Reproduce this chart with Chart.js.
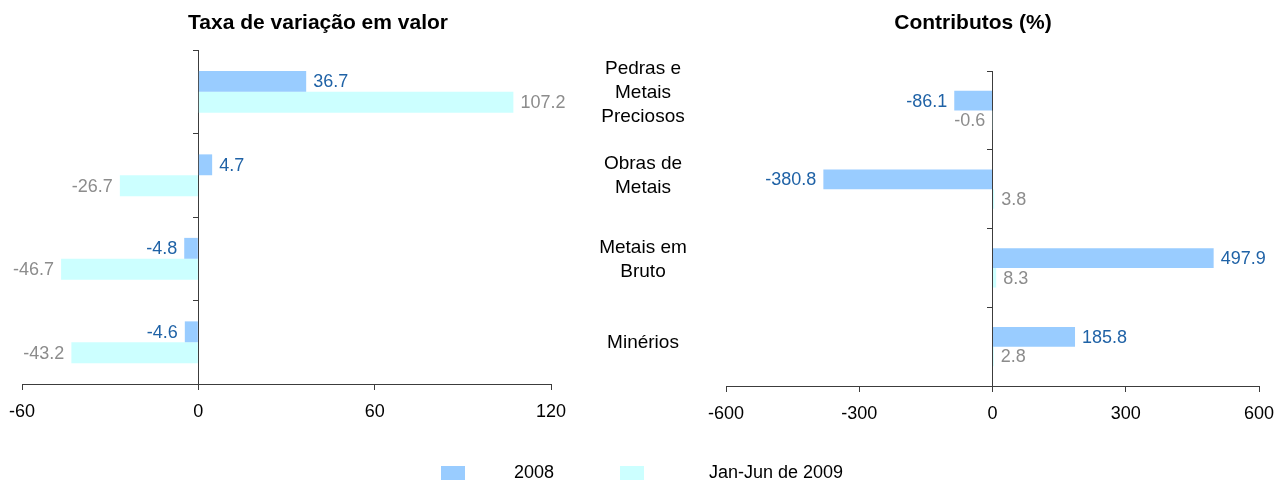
<!DOCTYPE html>
<html>
<head>
<meta charset="utf-8">
<script src="https://cdn.jsdelivr.net/npm/chart.js@4.4.1/dist/chart.umd.min.js"></script>
<style>
  html, body { margin: 0; padding: 0; background: #ffffff; }
  #wrap { position: relative; width: 1276px; height: 481px; overflow: hidden; }
  canvas { position: absolute; left: 0; top: 0; }
</style>
</head>
<body>
<div id="wrap">
  <canvas id="c1" width="1276" height="481"></canvas>
  <canvas id="c2" width="1276" height="481"></canvas>
</div>
<script>
// ---------- data ----------
const categories = [["Pedras e", "Metais", "Preciosos"], ["Obras de", "Metais"], ["Metais em", "Bruto"], ["Minérios"]];
const seriesNames = ["2008", "Jan-Jun de 2009"];
const taxa2008 = [36.7, 4.7, -4.8, -4.6];
const taxa2009 = [107.2, -26.7, -46.7, -43.2];
const contrib2008 = [-86.1, -380.8, 497.9, 185.8];
const contrib2009 = [-0.6, 3.8, 8.3, 2.8];
const taxaTicks = [-60, 0, 60, 120];
const contribTicks = [-600, -300, 0, 300, 600];
const chartTitles = ["Taxa de variação em valor", "Contributos (%)"];

// ---------- styles ----------
const FONT = "'Liberation Sans', Arial, Helvetica, sans-serif";
const barColors = ["#99CCFF", "#CCFFFF"];
const labelColors = ["#1F62A6", "#8C8C8C"];
const axisColor = "#3C3C3C";

Chart.defaults.font.family = FONT;
Chart.defaults.font.size = 18;
Chart.defaults.color = "#000000";

const valueLabels = {
  id: "valueLabels",
  afterDatasetsDraw(chart) {
    const ctx = chart.ctx;
    ctx.save();
    ctx.font = "18px " + FONT;
    ctx.textBaseline = "middle";
    chart.data.datasets.forEach((ds, di) => {
      const meta = chart.getDatasetMeta(di);
      meta.data.forEach((bar, i) => {
        const v = ds.data[i];
        const txt = v.toFixed(1);
        ctx.fillStyle = labelColors[di];
        if (v >= 0) { ctx.textAlign = "left"; ctx.fillText(txt, bar.x + 7, bar.y + 1); }
        else { ctx.textAlign = "right"; ctx.fillText(txt, bar.x - 7, bar.y + 1); }
      });
    });
    ctx.restore();
  }
};

const fixedTitle = {
  id: "fixedTitle",
  afterDraw(chart, args, opts) {
    if (!opts || !opts.text) return;
    const ctx = chart.ctx;
    ctx.save();
    ctx.font = "bold 21px " + FONT;
    ctx.fillStyle = "#000";
    ctx.textAlign = "center";
    ctx.textBaseline = "middle";
    ctx.fillText(opts.text, opts.x, opts.y);
    ctx.restore();
  }
};

const catLabels = {
  id: "catLabels",
  afterDraw(chart, args, opts) {
    if (!opts || !opts.show) return;
    const ctx = chart.ctx;
    const ys = chart.scales.y;
    ctx.save();
    ctx.font = "19px " + FONT;
    ctx.fillStyle = "#000";
    ctx.textAlign = "center";
    ctx.textBaseline = "middle";
    chart.data.labels.forEach((lines, i) => {
      const cy = ys.getPixelForValue(i) + opts.dy;
      const n = lines.length;
      lines.forEach((ln, k) => {
        ctx.fillText(ln, opts.x, cy + (k - (n - 1) / 2) * opts.lineHeight);
      });
    });
    ctx.restore();
  }
};

const fixedLegend = {
  id: "fixedLegend",
  afterDraw(chart, args, opts) {
    if (!opts || !opts.show) return;
    const ctx = chart.ctx;
    ctx.save();
    ctx.font = "18px " + FONT;
    ctx.textBaseline = "middle";
    ctx.textAlign = "left";
    chart.data.datasets.forEach((ds, di) => {
      const it = opts.items[di];
      ctx.fillStyle = ds.backgroundColor;
      ctx.fillRect(it.bx, opts.by, opts.bw, opts.bh);
      ctx.fillStyle = "#000";
      ctx.fillText(ds.label, it.tx, opts.ty);
    });
    ctx.restore();
  }
};

function makeChart(canvasId, d1, d2, ticksArr, padding, titleOpts, extraPlugins) {
  return new Chart(document.getElementById(canvasId), {
    type: "bar",
    data: {
      labels: categories,
      datasets: [
        { label: seriesNames[0], data: d1, backgroundColor: barColors[0], borderWidth: 0, categoryPercentage: 0.5, barPercentage: 1.0 },
        { label: seriesNames[1], data: d2, backgroundColor: barColors[1], borderWidth: 0, categoryPercentage: 0.5, barPercentage: 1.0 }
      ]
    },
    options: {
      indexAxis: "y",
      responsive: false,
      animation: false,
      devicePixelRatio: 1,
      layout: { padding: padding },
      plugins: {
        legend: { display: false },
        title: { display: false },
        tooltip: { enabled: false },
        fixedTitle: titleOpts,
        catLabels: extraPlugins.catLabels || { show: false },
        fixedLegend: extraPlugins.fixedLegend || { show: false }
      },
      scales: {
        x: {
          type: "linear",
          min: ticksArr[0],
          max: ticksArr[ticksArr.length - 1],
          afterBuildTicks: (axis) => { axis.ticks = ticksArr.map(v => ({ value: v })); },
          afterFit: (axis) => { axis.height = 36; axis.paddingLeft = 0; axis.paddingRight = 0; },
          grid: { display: true, drawOnChartArea: false, drawTicks: true, tickLength: 6, color: axisColor, lineWidth: 1 },
          border: { display: true, color: axisColor, width: 1 },
          ticks: { color: "#000", padding: 11, font: { size: 18 }, maxRotation: 0, autoSkip: false }
        },
        y: {
          type: "category",
          position: { x: 0 },
          offset: true,
          grid: { display: true, offset: true, drawOnChartArea: false, drawTicks: true, tickLength: 5, color: axisColor, lineWidth: 1 },
          border: { display: true, color: axisColor, width: 1 },
          ticks: { display: false }
        }
      }
    },
    plugins: [valueLabels, fixedTitle, catLabels, fixedLegend]
  });
}

makeChart("c1", taxa2008, taxa2009, taxaTicks,
  { left: 22, right: 725, top: 50, bottom: 61 },
  { text: chartTitles[0], x: 318, y: 23 },
  { catLabels: { show: true, x: 643, lineHeight: 24, dy: 1 } });

makeChart("c2", contrib2008, contrib2009, contribTicks,
  { left: 726, right: 17, top: 71, bottom: 59 },
  { text: chartTitles[1], x: 973, y: 23 },
  { fixedLegend: { show: true, by: 466, bw: 24, bh: 14, ty: 473, items: [{ bx: 441, tx: 514 }, { bx: 620, tx: 709 }] } });
</script>
</body>
</html>
